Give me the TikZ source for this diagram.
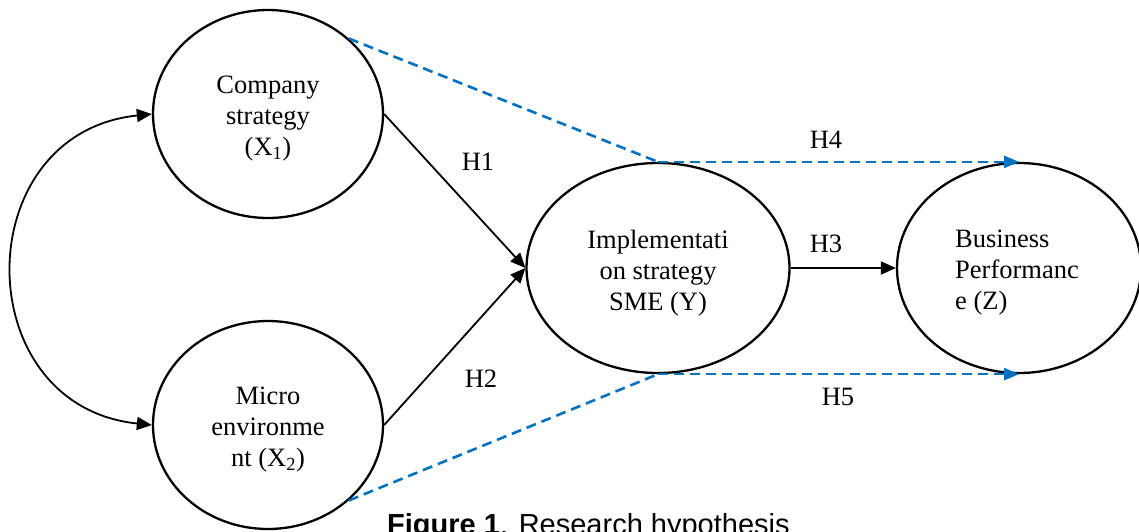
\documentclass[tikz,border=0pt]{standalone}
\usepackage{fontspec}
\setmainfont{Liberation Serif}
\newfontfamily\capfont{Liberation Sans}
\usetikzlibrary{shapes.geometric,arrows.meta,calc}
\definecolor{hblue}{RGB}{0,112,192}
\tikzset{
  ell/.style={ellipse, draw=black, line width=2.3pt, inner sep=0pt},
  lbl/.style={font=\fontsize{26.5}{31}\selectfont, inner sep=0pt},
  intext/.style={lbl, align=center, yshift=-5pt},
  solidarrow/.style={line width=1.8pt, -{Triangle[length=15pt,width=13pt]}},
  bluedash/.style={draw=hblue, line width=2.6pt, dash pattern=on 10pt off 6pt},
  bluetip/.style={-{Triangle[length=15pt,width=12pt,fill=hblue,color=hblue]}},
}
\begin{document}
\begin{tikzpicture}[x=1pt,y=-1pt]
\useasboundingbox (0,0) rectangle (1139,531);
\node[ell, minimum width=230pt, minimum height=208pt,
  label={[intext]center:Company\\strategy\\(X\textsubscript{1})}] (X1) at (268,114) {};
\node[ell, minimum width=230pt, minimum height=208pt,
  label={[intext]center:Micro\\environme\\nt (X\textsubscript{2})}] (X2) at (268,425) {};
\node[ell, minimum width=263pt, minimum height=210pt,
  label={[intext]center:Implementati\\on strategy\\SME (Y)}] (Y) at (658,268) {};
\node[ell, minimum width=244pt, minimum height=210pt,
  label={[intext, align=left, xshift=-2pt]center:Business\\Performanc\\e (Z)}] (Z) at (1019,268) {};
% correlation arc
\draw[line width=1.8pt, {Triangle[length=15pt,width=13pt]}-{Triangle[length=15pt,width=13pt]}]
  (X1.west) .. controls ($(X1.west)+(-185,19)$) and ($(X2.west)+(-185,-19)$) .. (X2.west);
% direct paths
\draw[solidarrow] (X1.east) -- (Y.west);
\draw[solidarrow] (X2.east) -- (Y.west);
\draw[solidarrow] (Y.east) -- (Z.west);
% blue dashed paths
\draw[bluedash] (X1.43) -- (Y.north);
\draw[bluedash, bluetip] (Y.north) -- (Z.north);
\draw[bluedash] (X2.-43) -- (Y.south);
\draw[bluedash, bluetip] (Y.south) -- (Z.south);
% labels
\node[lbl] (h1) at (478,162) {H1};
\node[lbl] (h2) at (481,379) {H2};
\node[lbl] (h3) at (826,244) {H3};
\node[lbl] (h4) at (826,140) {H4};
\node[lbl] (h5) at (838,397) {H5};
\node[anchor=base west, inner sep=0pt, font=\capfont\fontsize{29}{34}\selectfont] (cap) at (387,534)
  {\textbf{Figure 1}. Research hypothesis};
\end{tikzpicture}
\end{document}
